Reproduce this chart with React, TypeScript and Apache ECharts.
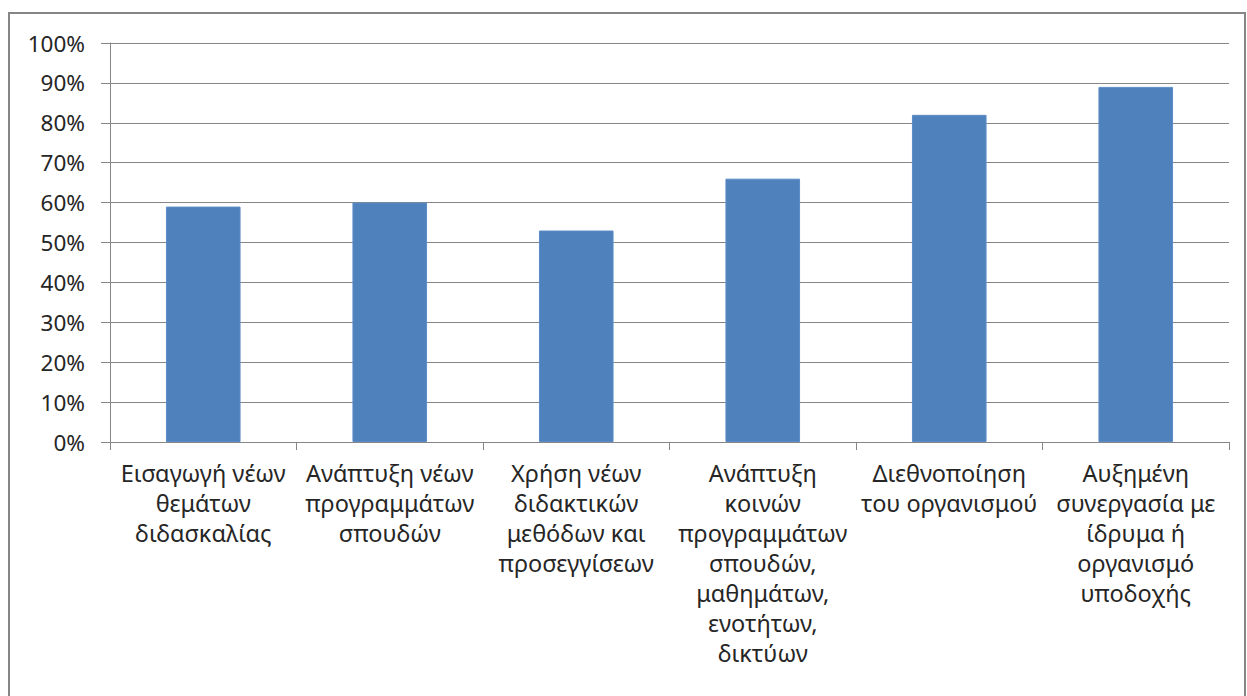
import React, { useEffect, useRef } from "react";
import * as echarts from "echarts";

const categories = [
  "Εισαγωγή νέων\nθεμάτων\nδιδασκαλίας",
  "Ανάπτυξη νέων\nπρογραμμάτων\nσπουδών",
  "Χρήση νέων\nδιδακτικών\nμεθόδων και\nπροσεγγίσεων",
  "Ανάπτυξη\nκοινών\nπρογραμμάτων\nσπουδών,\nμαθημάτων,\nενοτήτων,\nδικτύων",
  "Διεθνοποίηση\nτου οργανισμού",
  "Αυξημένη\nσυνεργασία με\nίδρυμα ή\nοργανισμό\nυποδοχής",
];
const values = [59, 60, 53, 66, 82, 89];

export default function App() {
  const ref = useRef<HTMLDivElement>(null);
  useEffect(() => {
    if (!ref.current) return;
    const chart = echarts.init(ref.current, undefined, { renderer: "svg" });
    chart.setOption({
      animation: false,
      backgroundColor: "#ffffff",
      textStyle: { fontFamily: "Noto Sans" },
      graphic: [
        {
          type: "rect",
          shape: { x: 9, y: 13, width: 1236, height: 700 },
          style: { fill: "none", stroke: "#868686", lineWidth: 2 },
          silent: true,
        },
      ],
      grid: { left: 110, right: 18, top: 43, bottom: 254 },
      xAxis: {
        type: "category",
        data: categories,
        axisLine: { lineStyle: { color: "#868686", width: 1 } },
        axisTick: { show: true, length: 8, lineStyle: { color: "#868686" } },
        axisLabel: {
          interval: 0,
          color: "#262626",
          fontSize: 23.5,
          lineHeight: 30,
          margin: 16,
          fontFamily: "Noto Sans",
        },
      },
      yAxis: {
        type: "value",
        min: 0,
        max: 100,
        interval: 10,
        axisLine: { show: true, lineStyle: { color: "#868686", width: 1 } },
        axisTick: { show: true, length: 9, lineStyle: { color: "#868686" } },
        splitLine: { lineStyle: { color: "#868686", width: 1 } },
        axisLabel: {
          formatter: "{value}%",
          color: "#262626",
          fontSize: 22.5,
          margin: 25,
          fontFamily: "Noto Sans",
        },
      },
      series: [
        {
          type: "bar",
          data: values,
          barWidth: "40%",
          itemStyle: { color: "#4F81BD", borderColor: "#5B8CC6", borderWidth: 1 },
        },
      ],
    });
    return () => chart.dispose();
  }, []);
  return (
    <div
      ref={ref}
      style={{ position: "absolute", left: 0, top: 0, width: 1247, height: 696 }}
    />
  );
}
